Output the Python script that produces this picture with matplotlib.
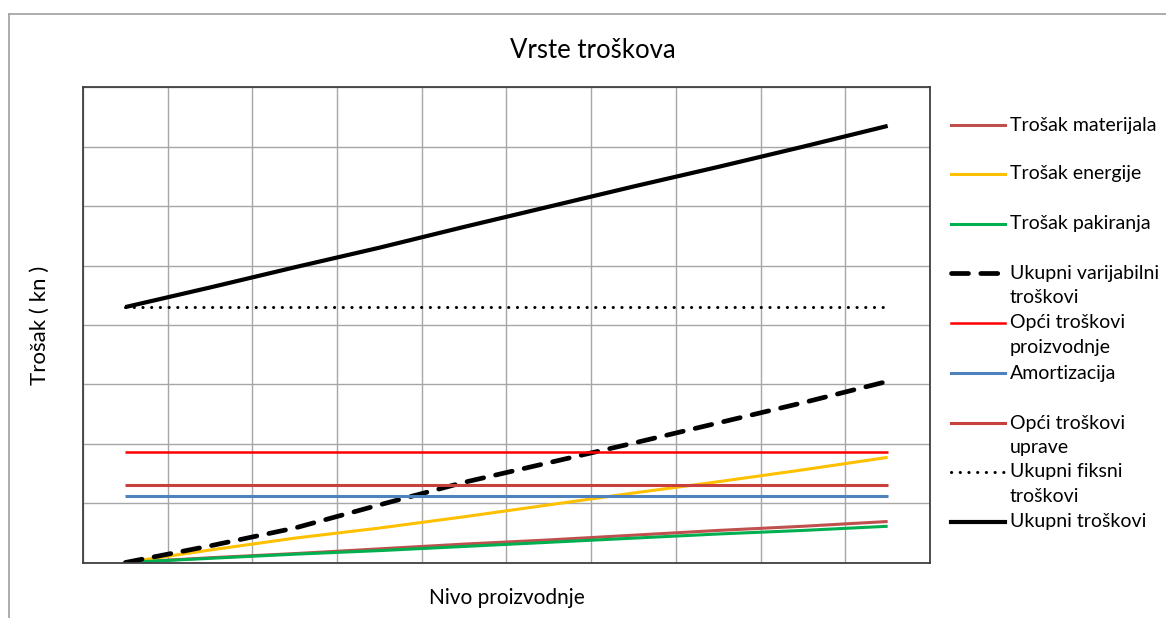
import matplotlib
matplotlib.use("Agg")
import matplotlib.pyplot as plt
from matplotlib.lines import Line2D

plt.rcParams['font.family'] = ['Lato', 'DejaVu Sans']

# ---- data ----
levels = [1, 2, 3, 4, 5, 6, 7, 8, 9, 10]
trosak_materijala = [0, 0.08, 0.15, 0.23, 0.31, 0.38, 0.46, 0.54, 0.61, 0.69]
trosak_energije = [0, 0.21, 0.41, 0.58, 0.77, 0.97, 1.17, 1.36, 1.56, 1.77]
trosak_pakiranja = [0, 0.07, 0.14, 0.20, 0.27, 0.34, 0.41, 0.48, 0.54, 0.61]
ukupni_varijabilni = [0, 0.28, 0.58, 0.97, 1.35, 1.68, 2.01, 2.35, 2.69, 3.05]
opci_proizvodnje = [1.86] * 10
amortizacija = [1.12] * 10
opci_uprave = [1.31] * 10
ukupni_fiksni = [4.30] * 10
ukupni_troskovi = [4.30, 4.63, 4.97, 5.30, 5.65, 5.99, 6.33, 6.66, 7.00, 7.35]

labels = ["Trošak materijala", "Trošak energije", "Trošak pakiranja",
          "Ukupni varijabilni\ntroškovi", "Opći troškovi\nproizvodnje",
          "Amortizacija", "Opći troškovi\nuprave", "Ukupni fiksni\ntroškovi",
          "Ukupni troškovi"]
series = [trosak_materijala, trosak_energije, trosak_pakiranja, ukupni_varijabilni,
          opci_proizvodnje, amortizacija, opci_uprave, ukupni_fiksni, ukupni_troskovi]

# ---- styles ----
W, H = 1166, 618
colors = ['#C0504D', '#FFC000', '#00B050', 'black', '#FF0000', '#4F81BD',
          '#C8403C', 'black', 'black']
widths = [2.2, 2.2, 2.2, 3.4, 1.8, 2.2, 2.2, 2.2, 3.0]
styles = ['-', '-', '-', (0, (3.6, 2.6)), '-', '-', '-', (0, (0.05, 2.8)), '-']
caps = ['butt', 'butt', 'butt', 'round', 'butt', 'butt', 'butt', 'round', 'round']

fig = plt.figure(figsize=(W / 100, H / 100), dpi=100)
fig.patch.set_facecolor('white')

# outer chart frame (only left/top visible in the crop)
fig.add_artist(Line2D([9 / W, 9 / W], [0, 1 - 14 / H], color='#A6A6A6', lw=1.3,
                      transform=fig.transFigure))
fig.add_artist(Line2D([9 / W, 1], [1 - 14 / H, 1 - 14 / H], color='#A6A6A6', lw=1.3,
                      transform=fig.transFigure))

ax = fig.add_axes([83 / W, 1 - 562.5 / H, (930 - 83) / W, (562.5 - 87.3) / H])
for s, c, w, ls, cp in zip(series, colors, widths, styles, caps):
    ax.plot(levels, s, color=c, lw=w, linestyle=ls, dash_capstyle=cp,
            solid_capstyle='butt')

ax.set_xlim(0.5, 10.5)
ax.set_ylim(0, 8)
ax.set_xticks([x + 0.5 for x in range(0, 11)])
ax.set_yticks(range(0, 9))
ax.tick_params(length=0, labelbottom=False, labelleft=False)
ax.grid(True, color='#A6A6A6', lw=1.0)
ax.set_axisbelow(True)
for sp in ax.spines.values():
    sp.set_color('#404040')
    sp.set_linewidth(1.3)

fig.text(593 / W, 1 - 50 / H, "Vrste troškova", ha='center', va='center', fontsize=18.5)
fig.text(40 / W, 1 - 325 / H, "Trošak ( kn )", ha='center', va='center',
         rotation=90, fontsize=16)
fig.text(507 / W, 1 - 598 / H, "Nivo proizvodnje", ha='center', va='center',
         fontsize=15)

# ---- manual legend ----
legend_y = [125, 174, 224, 273, 323, 373, 423, 472, 522]
line_gap = 25
for lab, c, w, ls, cp, y in zip(labels, colors, widths, styles, caps, legend_y):
    fig.add_artist(Line2D([951 / W, 1005 / W], [1 - y / H, 1 - y / H], color=c,
                          lw=w, linestyle=ls, dash_capstyle=cp,
                          transform=fig.transFigure))
    for k, part in enumerate(lab.split('\n')):
        fig.text(1010 / W, 1 - (y + k * line_gap) / H, part, ha='left',
                 va='center', fontsize=14)

fig.savefig('out.png', dpi=100, facecolor='white')
